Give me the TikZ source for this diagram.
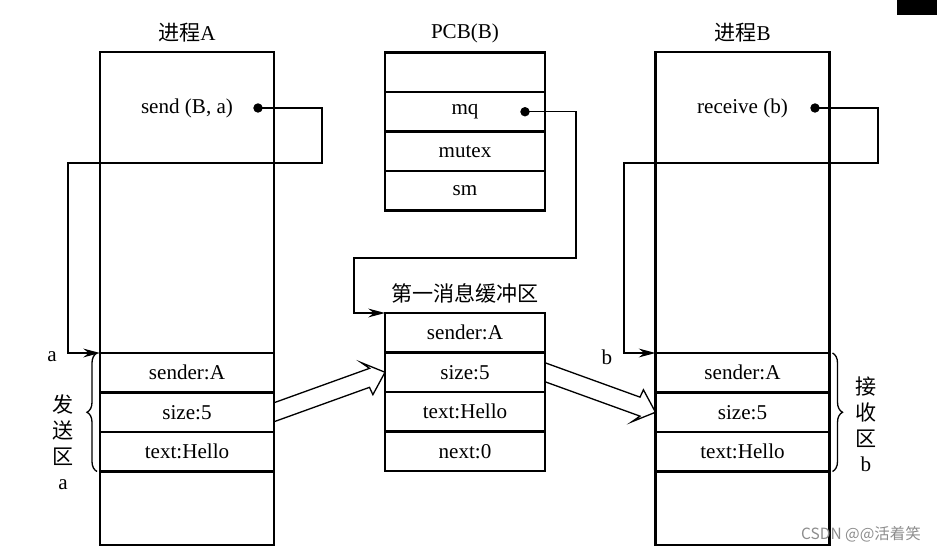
\documentclass[tikz,border=0pt]{standalone}
\usepackage{fontspec}
\setmainfont{Liberation Serif}
\newfontfamily\cjk{Noto Sans CJK SC}
\usepackage{tikz}
\usetikzlibrary{arrows.meta,positioning,calc,decorations.pathreplacing}

\begin{document}
\begin{tikzpicture}[
	every node/.style = {font = \fontsize{12}{14.6}\selectfont},
	cell/.style = {draw, line width = 1.2pt, minimum width = 3.48cm, minimum height = 0.79cm, inner sep = 0pt, outer sep = 0pt},
	pcell/.style = {cell, minimum width = 3.2cm},
	dot/.style = {circle, fill = black, inner sep = 1.9pt},
	link/.style = {line width = 0.75pt, -{Stealth[length = 9.5pt, width = 5pt]}},
	fat/.style = {line width = 0.75pt, line join = miter},
	brace/.style = {decorate, decoration = {brace, amplitude = 0.2cm}, line width = 0.75pt}
	]
	
	\useasboundingbox (0, 0) rectangle (18.74, -11.04);
	
	% process A
	\node[cell, minimum height = 6.02cm, anchor = north] (Atop) at (3.74, -1.04) {};
	\node[cell, below = 0pt of Atop] (Asender) {sender:A};
	\node[cell, below = 0pt of Asender] (Asize) {size:5};
	\node[cell, below = 0pt of Asize] (Atext) {text:Hello};
	\node[cell, minimum height = 1.47cm, below = 0pt of Atext] (Abottom) {};
	\node[above = 2pt of Atop] (titleA) {{\cjk 进程}A};
	\node (send) at ($(Atop.north) + (0, -1.12)$) {send (B, a)};
	\node[dot] (sdot) at ($(Atop.north) + (1.42, -1.12)$) {};
	
	% PCB of B
	\node[pcell, anchor = north] (pcb0) at (9.3, -1.05) {};
	\node[pcell, below = 0pt of pcb0] (mq) {mq};
	\node[pcell, below = 0pt of mq] (mutex) {mutex};
	\node[pcell, below = 0pt of mutex] (sm) {sm};
	\node[above = 2pt of pcb0] (titlePCB) {PCB(B)};
	\node[dot] (mdot) at ($(mq.center) + (1.2, 0)$) {};
	
	% first message buffer
	\node[pcell, anchor = north] (Msender) at (9.3, -6.26) {sender:A};
	\node[pcell, below = 0pt of Msender] (Msize) {size:5};
	\node[pcell, below = 0pt of Msize] (Mtext) {text:Hello};
	\node[pcell, below = 0pt of Mtext] (Mnext) {next:0};
	\node[above = 2pt of Msender] (titleM) {{\cjk 第一消息缓冲区}};
	
	% process B
	\node[cell, minimum height = 6.02cm, anchor = north] (Btop) at (14.85, -1.04) {};
	\node[cell, below = 0pt of Btop] (Bsender) {sender:A};
	\node[cell, below = 0pt of Bsender] (Bsize) {size:5};
	\node[cell, below = 0pt of Bsize] (Btext) {text:Hello};
	\node[cell, minimum height = 1.47cm, below = 0pt of Btext] (Bbottom) {};
	\node[above = 2pt of Btop] (titleB) {{\cjk 进程}B};
	\node (receive) at ($(Btop.north) + (0, -1.12)$) {receive (b)};
	\node[dot] (rdot) at ($(Btop.north) + (1.45, -1.12)$) {};
	
	% pointers
	\coordinate (sTurn) at (6.44, -3.26);
	\coordinate (sBack) at (1.36, -3.26);
	\draw[link] (sdot.center) -| (sTurn) -- (sBack) |- (Asender.north west);
	
	\coordinate (mTurn) at (11.52, -5.16);
	\coordinate (mBack) at (7.08, -5.16);
	\draw[link] (mdot.center) -| (mTurn) -- (mBack) |- (Msender.north west);
	
	\coordinate (rTurn) at (17.56, -3.26);
	\coordinate (rBack) at (12.48, -3.26);
	\draw[link] (rdot.center) -| (rTurn) -- (rBack) |- (Bsender.north west);
	
	\node (lblA) at (1.04, -7.14) {a};
	\node (lblB) at (12.14, -7.14) {b};
	
	% send and receive areas
	\draw[brace] ($(Atext.south west) + (-0.06, 0)$) -- ($(Asender.north west) + (-0.06, 0)$);
	\draw[brace] ($(Bsender.north east) + (0.06, 0)$) -- ($(Btext.south east) + (0.06, 0)$);
	\node[align = center] (sendArea) at (1.26, -8.85) {{\cjk 发}\\{\cjk 送}\\{\cjk 区}\\a};
	\node[align = center] (recvArea) at (17.32, -8.49) {{\cjk 接}\\{\cjk 收}\\{\cjk 区}\\b};
	
	% copy arrows
	\coordinate (f1) at ($(Msize.west)!0.33cm!(Asize.east)$);
	\coordinate (f1w) at ($(Msize.west)!0.38cm!(Asize.east)$);
	\draw[fat] ($(Asize.east) + (0, 0.19)$) -- ($(f1) + (0, 0.19)$) -- ($(f1w)!0.34cm!90:(Msize.west)$) -- (Msize.west) -- ($(f1w)!0.34cm!-90:(Msize.west)$) -- ($(f1) + (0, -0.19)$) -- ($(Asize.east) + (0, -0.19)$);
	
	\coordinate (f2) at ($(Bsize.west)!0.33cm!(Msize.east)$);
	\coordinate (f2w) at ($(Bsize.west)!0.38cm!(Msize.east)$);
	\draw[fat] ($(Msize.east) + (0, 0.19)$) -- ($(f2) + (0, 0.19)$) -- ($(f2w)!0.34cm!90:(Bsize.west)$) -- (Bsize.west) -- ($(f2w)!0.34cm!-90:(Bsize.west)$) -- ($(f2) + (0, -0.19)$) -- ($(Msize.east) + (0, -0.19)$);
	
	\fill (17.94, 0) rectangle (18.74, -0.3);
	\node[text = black!45, font = \cjk\fontsize{8.8}{10}\selectfont] (csdn) at (17.22, -10.68) {CSDN @@活着笑};

\end{tikzpicture}
\end{document}
